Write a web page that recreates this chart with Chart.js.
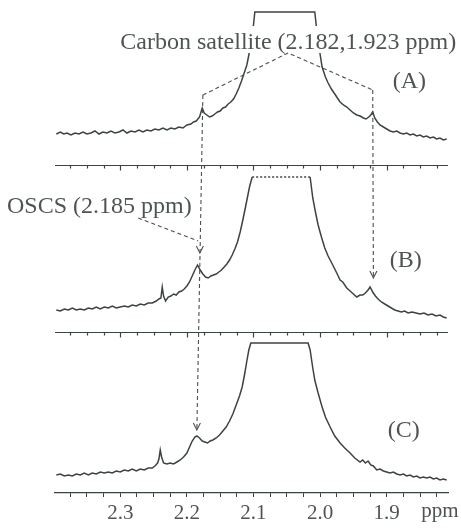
<!DOCTYPE html>
<html><head><meta charset="utf-8">
<script src="https://cdn.jsdelivr.net/npm/chart.js@4/dist/chart.umd.min.js"></script>
<style>html,body{margin:0;padding:0;background:#fff;}#wrap{width:461px;height:529px;position:relative;}</style>
</head><body><div id="wrap"><canvas id="c" width="461" height="529"></canvas></div>
<script>
// ---- data (ppm, intensity above own baseline) ----
const ppmA = [2.396,2.390,2.385,2.380,2.374,2.368,2.362,2.356,2.350,2.344,2.338,2.332,2.326,2.320,2.314,2.308,2.302,2.296,2.290,2.284,2.278,2.272,2.266,2.260,2.254,2.248,2.242,2.236,2.230,2.224,2.218,2.212,2.206,2.200,
 2.194,2.190,2.186,2.181,2.177,2.174,2.170,2.166,2.162,2.158,2.154,2.150,2.146,2.142,2.138,2.134,2.130,2.126,2.122,2.118,2.114,2.110,2.107,2.103,2.100,2.098,
 2.008,2.005,2.001,1.997,1.992,1.988,1.983,1.978,1.975,1.970,1.965,1.960,1.955,1.950,1.945,1.940,1.935,1.931,1.927,1.924,1.921,1.918,1.914,1.910,1.905,1.900,
 1.895,1.890,1.885,1.880,1.875,1.870,1.865,1.860,1.855,1.850,1.845,1.840,1.835,1.830,1.825,1.820,1.815,1.810];
const intA = [31,33,31,32,30,32,31,33,31,32,34,31,33,32,34,32,33,35,32,34,33,35,33,35,34,36,35,37,35,37,36,38,37,40,
 41,43,44,48,57,52,50,48,49,51,53,54,57,58,61,63,66,71,77,84,92,100,110,125,140,153,
 153,135,115,98,88,82,76,71,68,63,60,58,55,52,50,49,47,46,48,50,53,47,43,40,38,36,
 34,33,34,32,31,32,30,31,29,30,28,29,27,28,26,27,25,26];

const ppmB = [2.396,2.390,2.384,2.378,2.372,2.366,2.360,2.354,2.348,2.342,2.336,2.330,2.324,2.318,2.312,2.306,2.300,2.294,2.288,2.282,2.276,2.270,2.264,2.258,2.252,2.246,
 2.242,2.239,2.237,2.235,2.232,2.228,2.224,2.220,2.216,2.212,2.208,2.204,2.200,2.196,2.192,2.188,2.184,2.180,2.176,2.172,2.168,2.164,2.160,2.156,2.152,2.148,2.144,2.140,2.136,2.132,2.128,2.124,2.120,2.116,2.112,2.109,2.106,2.102,
 2.015,2.011,2.007,2.003,1.998,1.993,1.988,1.981,1.975,1.970,1.966,1.960,1.955,1.950,1.945,1.940,1.936,1.932,1.928,1.925,1.921,1.917,1.913,1.908,1.903,1.898,1.893,1.888,1.883,1.878,1.873,1.868,1.862,1.856,1.850,1.844,1.838,1.832,1.826,1.820,1.815,1.810];
const intB = [22,21,23,22,24,22,23,22,24,23,25,23,25,24,26,24,25,26,25,27,26,28,27,29,29,31,
 33,34,45,36,31,35,36,38,37,40,41,43,46,50,56,62,67,62,58,55,54,56,57,58,60,62,65,68,72,77,83,90,100,112,125,135,145,155,
 155,134,120,107,95,84,76,67,59,52,50,44,41,38,35,37,37,39,42,45,40,36,33,30,28,26,24,22,21,20,21,19,20,19,18,19,17,18,16,17,15,14];

const ppmC = [2.396,2.390,2.384,2.378,2.372,2.366,2.360,2.354,2.348,2.342,2.336,2.330,2.324,2.318,2.312,2.306,2.300,2.294,2.288,2.282,2.276,2.270,2.264,2.258,2.252,
 2.248,2.244,2.242,2.240,2.238,2.235,2.230,2.225,2.220,2.215,2.210,2.205,2.200,2.196,2.192,2.188,2.185,2.181,2.177,2.173,2.169,2.165,2.161,2.156,2.151,2.146,2.141,2.136,2.131,2.126,2.121,2.117,2.113,2.110,2.107,2.104,
 2.018,2.015,2.011,2.008,2.003,1.997,1.992,1.985,1.978,1.970,1.963,1.955,1.948,1.940,1.936,1.932,1.928,1.924,1.920,1.915,1.910,1.905,1.900,1.895,1.890,1.885,1.880,1.875,1.870,1.865,1.860,1.855,1.850,1.845,1.840,1.835,1.830,1.825,1.820,1.815,1.810];
const intC = [18,19,17,18,17,19,18,20,18,20,19,21,20,21,20,22,21,23,22,24,22,24,23,25,25,
 27,30,34,43,36,30,29,30,29,31,33,36,40,46,52,56,57,55,52,51,50,52,53,55,58,62,66,72,79,88,97,106,120,132,143,150,
 150,143,125,113,100,86,76,66,57,50,45,40,35,31,33,30,32,28,27,23,24,22,21,20,21,19,18,19,17,18,16,17,15,16,15,16,14,15,13,14,13];

const tickLabels = ['2.3','2.2','2.1','2.0','1.9'];
const satellitePPM = [2.176, 1.921];   // carbon satellite peaks as drawn
const oscsPPM = 2.184;

// ---- layout / style ----
const panelBase = {A:328, B:161, C:0};
const lineColor = '#3c4440';
const textColor = '#4e5551';
const serif = '"Liberation Serif","Times New Roman",serif';

function series(ppm, inten, off){
  const n = Math.min(ppm.length, inten.length);
  return Array.from({length:n}, (_, i) => ({x: ppm[i], y: inten[i] + off}));
}
const topB = Math.max(...intB) + panelBase.B;

const deco = {
  id: 'deco',
  afterDatasetsDraw(chart){
    const {ctx} = chart, xs = chart.scales.x, ys = chart.scales.y;
    const X = v => xs.getPixelForValue(v), Y = v => ys.getPixelForValue(v);
    ctx.save();
    // inner axes for panels A and B
    ctx.strokeStyle = lineColor; ctx.lineWidth = 1.2;
    [panelBase.A, panelBase.B].forEach(b => {
      const py = Math.round(Y(b)) + 0.5;
      ctx.beginPath(); ctx.moveTo(xs.left, py); ctx.lineTo(xs.right, py);
      xs.ticks.forEach(t => { const px = Math.round(X(t.value)) + 0.5; ctx.moveTo(px, py); ctx.lineTo(px, py + (t.label ? 5 : 3)); });
      ctx.stroke();
    });
    // label with white backing
    ctx.font = '24px ' + serif; ctx.fillStyle = textColor; ctx.textBaseline = 'alphabetic'; ctx.textAlign = 'left';
    const carbon = 'Carbon satellite (2.182,1.923 ppm)';
    const cx = X(2.300), cy = Y(444), w = ctx.measureText(carbon).width;
    ctx.fillStyle = '#fff'; ctx.fillRect(cx - 2, cy - 23, w + 4, 27);
    ctx.fillStyle = textColor; ctx.fillText(carbon, cx, cy);
    ctx.fillText('(A)', X(1.891), Y(405));
    ctx.fillText('OSCS (2.185 ppm)', X(2.470), Y(280));
    ctx.fillText('(B)', X(1.8955), Y(226));
    ctx.fillText('(C)', X(1.8985), Y(56));
    ctx.font = '21px ' + serif;
    ctx.fillText('ppm', X(1.848), 517);
    // dashed annotations
    ctx.strokeStyle = '#4a504d'; ctx.lineWidth = 1.1; ctx.setLineDash([4, 3]);
    const line = (pts) => { ctx.beginPath(); pts.forEach((p, i) => { const px = X(p[0]), py = Y(p[1]); i ? ctx.lineTo(px, py) : ctx.moveTo(px, py); }); ctx.stroke(); };
    line([[satellitePPM[0], 398], [2.048, 440], [satellitePPM[1], 403]]);
    line([[satellitePPM[0], 398], [oscsPPM + 0.001, 63]]);
    line([[satellitePPM[1], 403], [satellitePPM[1] - 0.001, 215]]);
    line([[2.273, 275], [oscsPPM - 0.001, 252]]);
    ctx.setLineDash([]);
    const arrow = (ppm, v) => { const px = X(ppm), py = Y(v); ctx.beginPath(); ctx.moveTo(px - 3.5, py - 7); ctx.lineTo(px, py); ctx.lineTo(px + 3.5, py - 7); ctx.stroke(); };
    arrow(2.1805, 240); arrow(oscsPPM + 0.001, 63); arrow(satellitePPM[1] - 0.001, 215);
    ctx.restore();
  }
};

new Chart(document.getElementById('c'), {
  type: 'line',
  data: { datasets: [
    {label:'A', data: series(ppmA, intA, panelBase.A)},
    {label:'B', data: series(ppmB, intB, panelBase.B),
      segment: { borderDash: c => (c.p0.parsed.y >= topB && c.p1.parsed.y >= topB) ? [2, 2] : undefined }},
    {label:'C', data: series(ppmC, intC, panelBase.C)}
  ].map(d => Object.assign({borderColor: lineColor, borderWidth: 1.5, pointRadius: 0, tension: 0, fill: false}, d)) },
  options: {
    responsive: false, animation: false, devicePixelRatio: 1,
    layout: { padding: {left: 55, right: 13, top: 0, bottom: 0} },
    plugins: { legend: {display: false}, tooltip: {enabled: false} },
    scales: {
      x: { type: 'linear', reverse: true, min: 1.808, max: 2.398, position: 'bottom',
        afterFit: s => { s.height = 36; },
        ticks: { stepSize: 0.025, includeBounds: false, autoSkip: false, maxRotation: 0, padding: 4,
          color: textColor, font: {family: serif, size: 21},
          callback: v => { const s = (Math.round(v * 1000) / 1000).toFixed(3); const t = s.endsWith('00') ? (+s).toFixed(1) : ''; return tickLabels.includes(t) ? t : ''; } },
        grid: { drawOnChartArea: false, drawTicks: true, tickLength: 4, tickColor: lineColor },
        border: { display: true, color: lineColor, width: 1.2 } },
      y: { display: false, min: 0, max: 493 }
    }
  },
  plugins: [deco]
});
</script></body></html>
